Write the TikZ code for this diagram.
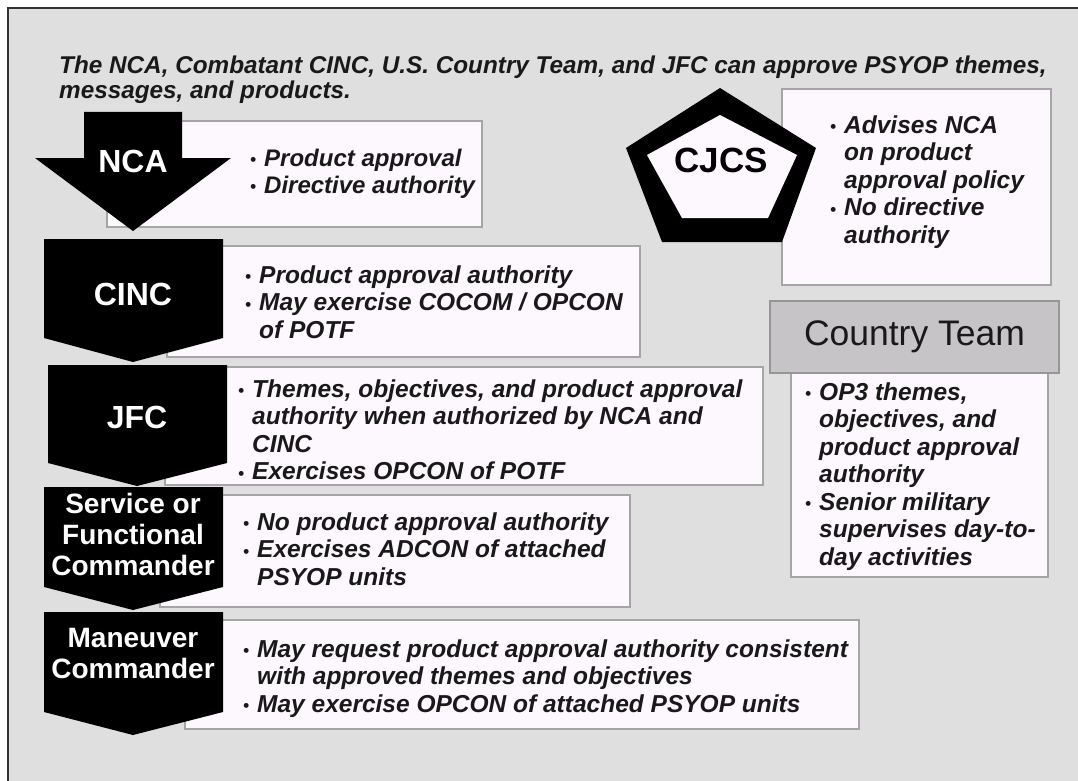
\documentclass[tikz,border=0pt]{standalone}
\usepackage{fontspec}
\setmainfont{Liberation Sans}
\definecolor{bg}{RGB}{223,223,223}
\definecolor{boxfill}{RGB}{253,248,253}
\definecolor{boxline}{RGB}{165,165,165}
\definecolor{hdrfill}{RGB}{198,196,198}
\definecolor{hdrline}{RGB}{150,150,150}
\definecolor{ink}{RGB}{25,25,25}
\newcommand{\bl}{\makebox[14pt][l]{\raisebox{0.5pt}{\fontsize{17}{17}\selectfont\textbullet}}}
\newcommand{\ind}{\hspace*{14pt}}
\begin{document}
\begin{tikzpicture}[x=1pt,y=-1pt,
  body/.style={anchor=north west, inner sep=0pt, align=left, text=ink, font=\fontsize{24.5}{27.5}\selectfont\bfseries\itshape},
  tbox/.style={draw=boxline, fill=boxfill, line width=1.5pt},
  chev/.style={fill=black},
  lab/.style={text=white, font=\fontsize{32}{32}\selectfont\bfseries, inner sep=0pt, anchor=base},
  lab2/.style={text=white, font=\fontsize{28}{31}\selectfont\bfseries, inner sep=0pt, anchor=north, align=center}]
\useasboundingbox (0,0) rectangle (1078,781);
\clip (0,0) rectangle (1078,781);
\fill[white] (0,0) rectangle (1078,781);
\draw[fill=bg, draw=black!80, line width=1.5pt] (8,8) rectangle (1090,795);

% title
\node[anchor=north west, inner sep=0pt, align=left, text=ink, font=\fontsize{24.3}{25.5}\selectfont\bfseries\itshape] (title) at (59,55.6)
  {The NCA, Combatant CINC, U.S. Country Team, and JFC can approve PSYOP themes,\\messages, and products.};

% text boxes
\draw[tbox] (107,121) rectangle (482,227);
\draw[tbox] (167,246) rectangle (640,357);
\draw[tbox] (165,367) rectangle (763,485);
\draw[tbox] (160,495) rectangle (630,607);
\draw[tbox] (185,620) rectangle (859,729);
\draw[tbox] (782,89) rectangle (1051,285);
\draw[tbox] (791,373) rectangle (1048,577);
\node[draw=hdrline, fill=hdrfill, line width=1.5pt, minimum width=289pt, minimum height=72pt, inner sep=0pt,
      text=ink, font=\fontsize{35.5}{36}\selectfont] (ct) at (914.5,337) {Country Team};

% chevrons
\fill[chev] (84,112) -- (182,112) -- (182,158) -- (231,158) -- (133,231) -- (35,158) -- (84,158) -- cycle;
\fill[chev] (44,239) -- (223,239) -- (223,338) -- (133,362) -- (44,338) -- cycle;
\fill[chev] (48,365) -- (227,365) -- (227,463) -- (137,486) -- (48,463) -- cycle;
\fill[chev] (44,487) -- (223,487) -- (223,587) -- (133,610) -- (44,587) -- cycle;
\fill[chev] (44,612) -- (223,612) -- (223,712) -- (133,735) -- (44,712) -- cycle;

% pentagon
\fill[black] (720,88) -- (816,148) -- (782,242) -- (662,242) -- (626,148) -- cycle;
\fill[boxfill] (720,115) -- (797,155) -- (768,218) -- (682,218) -- (647,155) -- cycle;
\node[anchor=base, inner sep=0pt, text=black, font=\fontsize{35}{35}\selectfont\bfseries] (cjcs) at (721,172) {CJCS};

% chevron labels
\node[lab] (nca) at (133,172) {NCA};
\node[lab] (cinc) at (133,305) {CINC};
\node[lab] (jfc) at (137,428) {JFC};
\node[lab2] (svc) at (133,493) {Service or\\Functional\\Commander};
\node[lab2] (man) at (133,628) {Maneuver\\Commander};

% body texts
\node[body, font=\fontsize{24}{27}\selectfont\bfseries\itshape] (tnca) at (250,148.5)
  {\bl Product approval\\\bl Directive authority};
\node[body] (tcinc) at (245,265.5)
  {\bl Product approval authority\\\bl May exercise COCOM / OPCON\\\ind of POTF};
\node[body] (tjfc) at (238,379.5)
  {\bl Themes, objectives, and product approval\\\ind authority when authorized by NCA and\\\ind CINC\\\bl Exercises OPCON of POTF};
\node[body] (tsvc) at (243,512.5)
  {\bl No product approval authority\\\bl Exercises ADCON of attached\\\ind PSYOP units};
\node[body] (tman) at (243,639.5)
  {\bl May request product approval authority consistent\\\ind with approved themes and objectives\\\bl May exercise OPCON of attached PSYOP units};
\node[body] (tcjcs) at (830,115.5)
  {\bl Advises NCA\\\ind on product\\\ind approval policy\\\bl No directive\\\ind authority};
\node[body] (tct) at (805,382.5)
  {\bl OP3 themes,\\\ind objectives, and\\\ind product approval\\\ind authority\\\bl Senior military\\\ind supervises day-to-\\\ind day activities};
\end{tikzpicture}
\end{document}
